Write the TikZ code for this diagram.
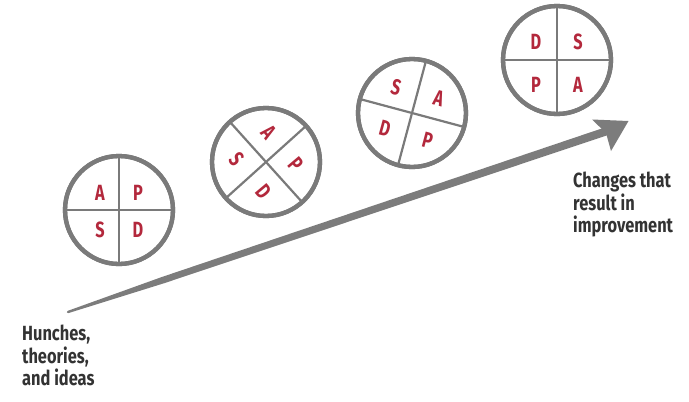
\documentclass[tikz,border=0pt]{standalone}
\usepackage{fontspec}
\newfontfamily\letterfont[FakeStretch=0.74]{Fira Sans}
\newfontfamily\labelfont[FakeStretch=0.8]{Fira Sans}
\definecolor{ringgray}{HTML}{7A7A7A}
\definecolor{arrowgray}{HTML}{7C7C7C}
\definecolor{letterred}{HTML}{B3283C}
\definecolor{textgray}{HTML}{333333}

\tikzset{
  cycle/.style={circle, draw=ringgray, line width=4.3pt, minimum size=108pt,
                inner sep=0pt, outer sep=0pt},
  divider/.style={draw=ringgray, line width=2.2pt},
  letter/.style={text=letterred, inner sep=0pt, transform shape,
                 font=\letterfont\bfseries\fontsize{22}{22}\selectfont},
  caption/.style={text=textgray, align=left, anchor=north west, inner sep=0pt,
                  font=\labelfont\bfseries\fontsize{20.5}{22.5}\selectfont},
}

\begin{document}
\begin{tikzpicture}[x=1pt,y=-1pt]
\useasboundingbox (0,0) rectangle (689,402);
\fill[white] (0,0) rectangle (689,402);

% the four PDSA cycles, each turned a little further
\node[cycle] (cyc1) at (119,210) {};
\node[cycle] (cyc2) at (266,162) {};
\node[cycle] (cyc3) at (412,113) {};
\node[cycle] (cyc4) at (557,60) {};

% dividing crosses
\draw[divider] (cyc1.90) -- (cyc1.270) (cyc1.180) -- (cyc1.0);
\draw[divider] (cyc2.42) -- (cyc2.222) (cyc2.132) -- (cyc2.312);
\draw[divider] (cyc3.75) -- (cyc3.255) (cyc3.165) -- (cyc3.345);
\draw[divider] (cyc4.90) -- (cyc4.270) (cyc4.180) -- (cyc4.0);
\node[cycle] at (cyc1) {};
\node[cycle] at (cyc2) {};
\node[cycle] at (cyc3) {};
\node[cycle] at (cyc4) {};

% quadrant letters
\begin{scope}[shift={(cyc1)}]
  \node[letter] (c1a) at (-19,-17) {A};
  \node[letter] (c1p) at (19,-17) {P};
  \node[letter] (c1s) at (-19,20) {S};
  \node[letter] (c1d) at (19,20) {D};
\end{scope}
\begin{scope}[shift={(cyc2)}, rotate=-50]
  \node[letter] (c2a) at (-21,-21) {A};
  \node[letter] (c2p) at (21,-21) {P};
  \node[letter] (c2s) at (-21,21) {S};
  \node[letter] (c2d) at (21,21) {D};
\end{scope}
\begin{scope}[shift={(cyc3)}, rotate=-15]
  \node[letter] (c3s) at (-22,-21) {S};
  \node[letter] (c3a) at (22,-21) {A};
  \node[letter] (c3d) at (-22,22) {D};
  \node[letter] (c3p) at (22,22) {P};
\end{scope}
\begin{scope}[shift={(cyc4)}]
  \node[letter] (c4d) at (-21,-18) {D};
  \node[letter] (c4s) at (21,-18) {S};
  \node[letter] (c4p) at (-21,25) {P};
  \node[letter] (c4a) at (21,25) {A};
\end{scope}

% tapered arrow of progress
\coordinate (arrowtail) at (68,312);
\coordinate (arrowtip) at (628.5,121);
\fill[arrowgray] (66.9,312.4) -- (67.6,310.9) -- (161.75,277.04) -- (611.8,125.1)
  -- (614.4,132.9) -- (163.85,283.3) -- (68.4,313.1) -- cycle;
\fill[arrowgray] (592,119.5) -- (arrowtip) -- (611,151) -- (606,133) -- cycle;

% end labels
\node[caption] (start) at (22,325) {Hunches,\\theories,\\and ideas};
\node[caption] (finish) at (573,172) {Changes that\\result in\\improvement};
\end{tikzpicture}
\end{document}
